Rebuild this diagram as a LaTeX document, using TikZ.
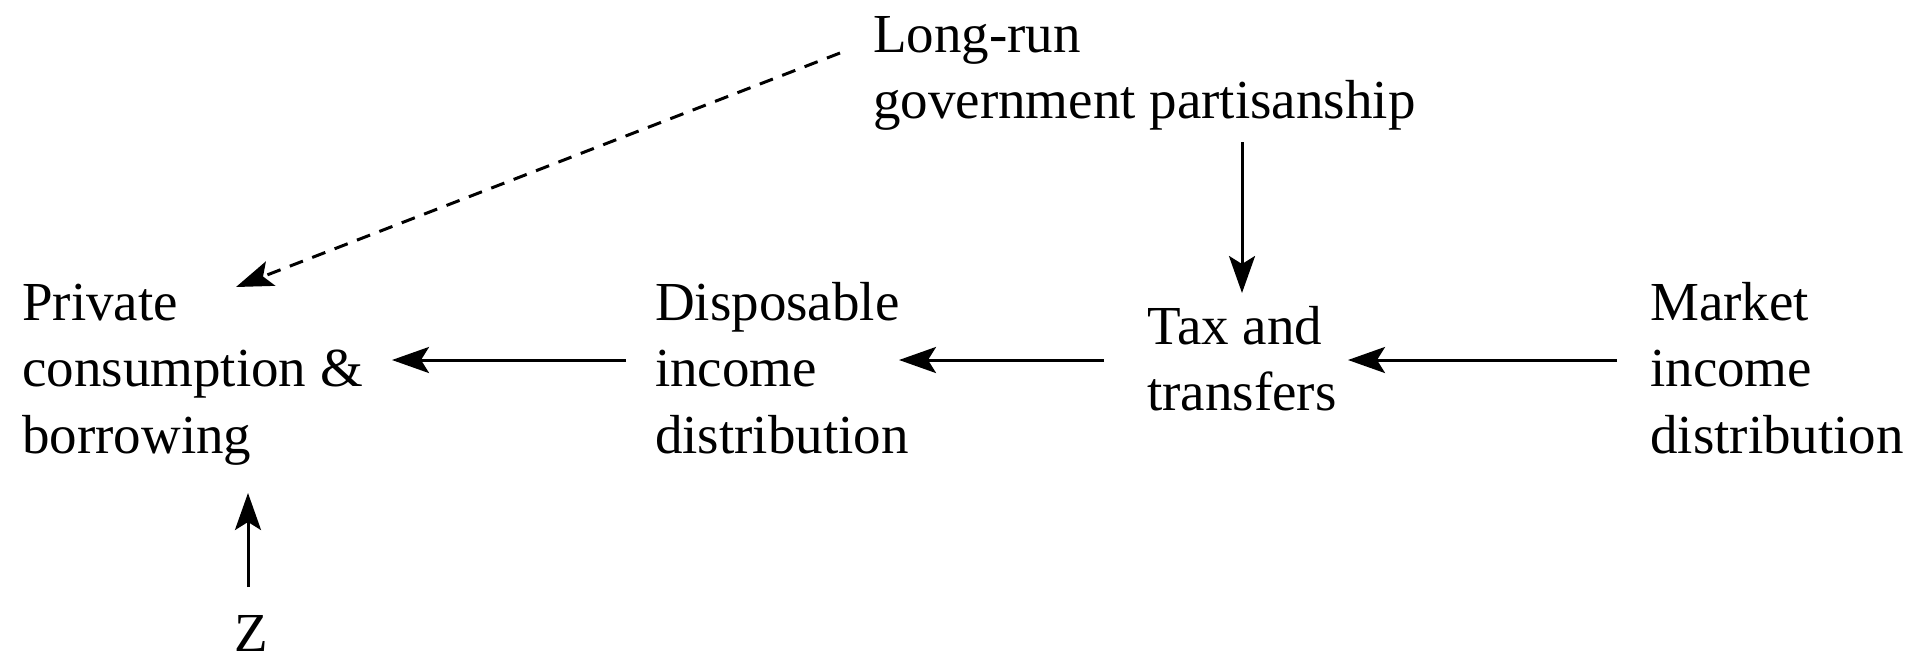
\documentclass[tikz,border=0pt]{standalone}
\usepackage{fontspec}
\setmainfont{Liberation Serif}
\newfontfamily\serf{Liberation Serif}
\usetikzlibrary{arrows.meta}
\newcommand{\blk}[1]{\begin{tabular}[t]{@{}l@{}}#1\end{tabular}}
\tikzset{
  lbl/.style={anchor=base west, inner sep=0pt, font=\serf\fontsize{55}{66.7}\selectfont},
  arr/.style={line width=3pt, -{Stealth[length=37pt, width=26pt, inset=8pt]}},
  darr/.style={arr, dash pattern=on 14pt off 10pt}
}
\begin{document}
\begin{tikzpicture}[x=1pt,y=-1pt]
\useasboundingbox (0,0) rectangle (1916,657);
\node[lbl] (priv) at (22,320) {\blk{Private\\consumption \&\\borrowing}};
\node[lbl] (disp) at (655,320) {\blk{Disposable\\income\\distribution}};
\node[lbl] (tax) at (1147,344) {\blk{Tax and\\transfers}};
\node[lbl] (mkt) at (1650,320) {\blk{Market\\income\\distribution}};
\node[lbl] (long) at (873,52) {\blk{Long-run\\government partisanship}};
\node[lbl, anchor=base] (z) at (251,651) {Z};
% connector ends
\coordinate (mkt-out) at (1617,360);
\coordinate (tax-in) at (1348,360);
\coordinate (tax-out) at (1104,360);
\coordinate (disp-in) at (899,360);
\coordinate (disp-out) at (626,360);
\coordinate (priv-in) at (392,360);
\coordinate (long-out) at (1242,142);
\coordinate (tax-top) at (1242,293);
\coordinate (long-dash) at (840,53);
\coordinate (priv-top) at (236,287);
\coordinate (z-out) at (248,587);
\coordinate (priv-bot) at (248,493);
\draw[arr] (mkt-out) -- (tax-in);
\draw[arr] (tax-out) -- (disp-in);
\draw[arr] (disp-out) -- (priv-in);
\draw[arr] (long-out) -- (tax-top);
\draw[arr] (z-out) -- (priv-bot);
\draw[darr] (long-dash) -- (priv-top);
\end{tikzpicture}
\end{document}
